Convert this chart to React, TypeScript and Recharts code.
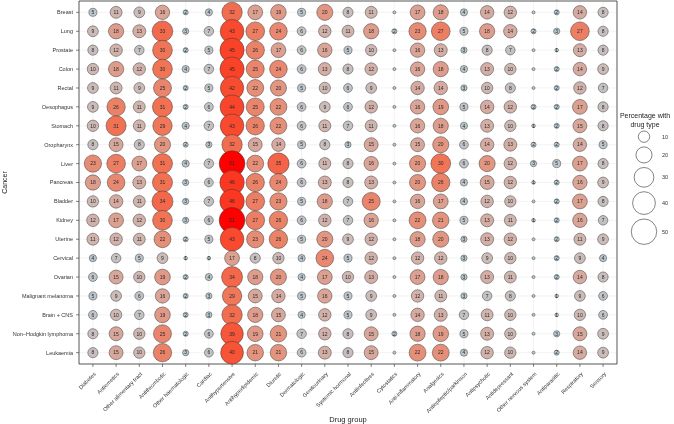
import React from 'react';
import {
  ScatterChart,
  Scatter,
  XAxis,
  YAxis,
  CartesianGrid,
  ReferenceArea,
} from 'recharts';

const cancers = [
  'Breast', 'Lung', 'Prostate', 'Colon', 'Rectal', 'Oesophagus', 'Stomach',
  'Oropharynx', 'Liver', 'Pancreas', 'Bladder', 'Kidney', 'Uterine', 'Cervical',
  'Ovarian', 'Malignant melanoma', 'Brain + CNS', 'Non\u2013Hodgkin lymphoma', 'Leukaemia',
];

const drugGroups = [
  'Diabetes', 'Antiemetics', 'Other alimentary tract', 'Antithrombotic',
  'Other haematologic', 'Cardiac', 'Antihypertensive', 'Antihyperlipidemic',
  'Diuretic', 'Dermatologic', 'Genitourinary', 'Systemic hormonal',
  'Antiinfectives', 'Cytostatics', 'Anti-inflammatory', 'Analgesics',
  'Antiepileptic/parkinson', 'Antipsychotic', 'Antidepressant',
  'Other nervous system', 'Antiparasitic', 'Respiratory', 'Sensory',
];

// percentage with drug type, one array per cancer, in drugGroups order
const breast = [5, 11, 9, 16, 2, 4, 32, 17, 19, 5, 20, 8, 11, 0, 17, 18, 4, 14, 12, 0, 2, 14, 8];
const lung = [9, 18, 13, 33, 3, 7, 43, 27, 24, 6, 12, 11, 18, 2, 23, 27, 5, 18, 14, 2, 3, 27, 8];
const prostate = [8, 12, 7, 30, 2, 5, 45, 26, 17, 6, 16, 5, 10, 0, 16, 13, 3, 8, 7, 0, 1, 13, 8];
const colon = [10, 18, 12, 30, 4, 7, 45, 25, 24, 6, 13, 8, 12, 0, 16, 18, 4, 13, 10, 0, 2, 14, 9];
const rectal = [9, 11, 9, 25, 2, 5, 42, 22, 20, 5, 10, 6, 9, 0, 14, 14, 3, 10, 8, 0, 2, 12, 7];
const oesophagus = [9, 26, 11, 31, 2, 6, 44, 25, 22, 6, 9, 6, 12, 0, 16, 19, 5, 14, 12, 2, 2, 17, 8];
const stomach = [10, 31, 11, 29, 4, 7, 43, 26, 22, 6, 11, 7, 11, 0, 16, 18, 4, 13, 10, 1, 2, 15, 8];
const oropharynx = [8, 15, 8, 20, 2, 3, 32, 15, 14, 5, 8, 3, 15, 0, 15, 20, 6, 14, 13, 2, 2, 14, 5];
const liver = [23, 27, 17, 31, 4, 7, 51, 22, 35, 6, 11, 8, 16, 0, 20, 30, 6, 20, 12, 3, 5, 17, 8];
const pancreas = [18, 24, 13, 31, 3, 6, 46, 26, 24, 6, 13, 8, 13, 0, 20, 26, 4, 15, 12, 1, 2, 16, 9];
const bladder = [10, 14, 11, 34, 3, 7, 46, 27, 23, 5, 18, 7, 25, 0, 16, 17, 4, 12, 10, 0, 2, 17, 8];
const kidney = [12, 17, 12, 30, 3, 6, 51, 27, 26, 6, 12, 7, 16, 0, 22, 21, 5, 13, 11, 1, 2, 16, 7];
const uterine = [11, 12, 11, 22, 2, 5, 43, 23, 26, 5, 20, 9, 12, 0, 18, 20, 3, 13, 12, 0, 2, 11, 9];
const cervical = [4, 7, 5, 9, 1, 1, 17, 8, 10, 4, 24, 5, 12, 0, 12, 12, 3, 9, 10, 0, 2, 9, 4];
const ovarian = [6, 15, 10, 19, 2, 4, 34, 18, 20, 4, 17, 10, 13, 0, 17, 18, 3, 13, 11, 0, 2, 14, 8];
const melanoma = [5, 9, 6, 16, 2, 3, 29, 15, 14, 5, 16, 5, 9, 0, 12, 11, 3, 7, 8, 0, 1, 9, 6];
const brainCns = [6, 10, 7, 19, 2, 3, 32, 18, 15, 4, 12, 5, 9, 0, 14, 13, 7, 11, 10, 0, 1, 10, 6];
const nonHodgkin = [8, 15, 10, 25, 2, 6, 39, 19, 21, 7, 12, 8, 15, 2, 18, 19, 5, 13, 10, 0, 3, 15, 9];
const leukaemia = [8, 15, 10, 26, 3, 6, 40, 21, 21, 6, 13, 8, 15, 0, 22, 22, 4, 12, 10, 0, 2, 14, 9];

const rows = [
  breast, lung, prostate, colon, rectal, oesophagus, stomach, oropharynx, liver,
  pancreas, bladder, kidney, uterine, cervical, ovarian, melanoma, brainCns,
  nonHodgkin, leukaemia,
];

const legendValues = [10, 20, 30, 40, 50];

const data = rows.flatMap((row, i) => row.map((v, j) => ({ x: j, y: i, v })));

const FONT = '"Liberation Sans", Arial, Helvetica, sans-serif';
const TEXT = '#333333';

const radius = (v: number) => Math.max(1.5, 1.8 * Math.sqrt(v));

const stops: [number, number[]][] = [
  [0, [172, 204, 216]],
  [6, [192, 196, 200]],
  [10, [206, 184, 180]],
  [20, [226, 150, 130]],
  [30, [240, 116, 86]],
  [45, [250, 66, 40]],
  [51, [255, 0, 0]],
];

function fillFor(v: number) {
  for (let k = 1; k < stops.length; k++) {
    const [v1, c1] = stops[k];
    const [v0, c0] = stops[k - 1];
    if (v <= v1 || k === stops.length - 1) {
      const t = Math.min(1, Math.max(0, (v - v0) / (v1 - v0)));
      const c = c0.map((a, n) => Math.round(a + (c1[n] - a) * t));
      return `rgb(${c[0]},${c[1]},${c[2]})`;
    }
  }
  return '#ccc';
}

const Bubble = (props: any) => {
  const { cx, cy, payload } = props;
  if (cx == null || cy == null) return null;
  const v = payload.v;
  return (
    <g>
      <circle cx={cx} cy={cy} r={radius(v)} fill={fillFor(v)} stroke="#3a3a3a" strokeWidth={0.5} />
      {v > 0 && (
        <text
          x={cx}
          y={cy}
          dy="0.35em"
          textAnchor="middle"
          fontSize={5}
          fontFamily={FONT}
          style={{ fill: '#2a2a2a' }}
        >
          {v}
        </text>
      )}
    </g>
  );
};

const XTick = (props: any) => {
  const { x, y, payload } = props;
  return (
    <g transform={`translate(${x + 2},${y + 4})`}>
      <text
        x={0}
        y={0}
        dy="0.35em"
        textAnchor="end"
        transform="rotate(-45)"
        fontSize={5.5}
        fontFamily={FONT}
        style={{ fill: TEXT }}
      >
        {drugGroups[payload.value]}
      </text>
    </g>
  );
};

const YTick = (props: any) => {
  const { x, y, payload } = props;
  return (
    <text
      x={x - 1}
      y={y}
      dy="0.35em"
      textAnchor="end"
      fontSize={5.5}
      fontFamily={FONT}
      style={{ fill: TEXT }}
    >
      {cancers[payload.value]}
    </text>
  );
};

const YTitle = (props: any) => {
  const vb = props.viewBox || {};
  const x = 5;
  const y = vb.y + vb.height / 2;
  return (
    <text x={x} y={y} transform={`rotate(-90, ${x}, ${y})`} dy="0.35em" textAnchor="middle"
      fontSize={7} fontFamily={FONT} style={{ fill: '#222' }}>
      Cancer
    </text>
  );
};

const XTitle = (props: any) => {
  const vb = props.viewBox || {};
  return (
    <text x={vb.x + vb.width / 2} y={419} dy="0.35em" textAnchor="middle"
      fontSize={7.5} fontFamily={FONT} style={{ fill: '#222' }}>
      Drug group
    </text>
  );
};

function SizeLegend() {
  let y = 131;
  const items = legendValues.map((v) => {
    const r = radius(v);
    y += r;
    const cy = y;
    y += r + 4.5;
    return { v, r, cy };
  });
  return (
    <svg width={74} height={250} style={{ position: 'absolute', left: 600, top: 0 }}>
      <text x={45} y={116} dy="0.35em" textAnchor="middle" fontSize={7} fontFamily={FONT} style={{ fill: '#222' }}>
        Percentage with
      </text>
      <text x={45} y={124.5} dy="0.35em" textAnchor="middle" fontSize={7} fontFamily={FONT} style={{ fill: '#222' }}>
        drug type
      </text>
      {items.map((it) => (
        <g key={it.v}>
          <circle cx={44} cy={it.cy} r={it.r} fill="none" stroke="#333" strokeWidth={0.6} />
          <text x={62} y={it.cy} dy="0.35em" fontSize={5.5} fontFamily={FONT} style={{ fill: TEXT }}>
            {it.v}
          </text>
        </g>
      ))}
    </svg>
  );
}

export default function App() {
  const xTicks = drugGroups.map((_, i) => i);
  const yTicks = cancers.map((_, i) => i);
  return (
    <div style={{ position: 'absolute', left: 0, top: 0, width: 674, height: 424, willChange: 'transform' }}>
      <ScatterChart width={674} height={424} margin={{ top: 1, right: 57, bottom: 0, left: 0 }}>
        <CartesianGrid stroke="#ebebeb" strokeWidth={0.6} />
        <XAxis
          type="number"
          dataKey="x"
          domain={[-0.6, 22.6]}
          ticks={xTicks}
          interval={0}
          height={60}
          axisLine={false}
          tickLine={{ stroke: '#333', strokeWidth: 0.6 }}
          tickSize={3}
          tick={<XTick />}
          label={{ content: <XTitle /> }}
        />
        <YAxis
          type="number"
          dataKey="y"
          domain={[-0.6, 18.6]}
          reversed
          ticks={yTicks}
          interval={0}
          width={79}
          axisLine={false}
          tickLine={{ stroke: '#333', strokeWidth: 0.6 }}
          tickSize={3}
          tick={<YTick />}
          label={{ content: <YTitle /> }}
        />
        <ReferenceArea x1={-0.6} x2={22.6} y1={-0.6} y2={18.6} fill="none" stroke="#333" strokeWidth={0.8} />
        <Scatter data={data} shape={<Bubble />} isAnimationActive={false} />
      </ScatterChart>
      <SizeLegend />
    </div>
  );
}
